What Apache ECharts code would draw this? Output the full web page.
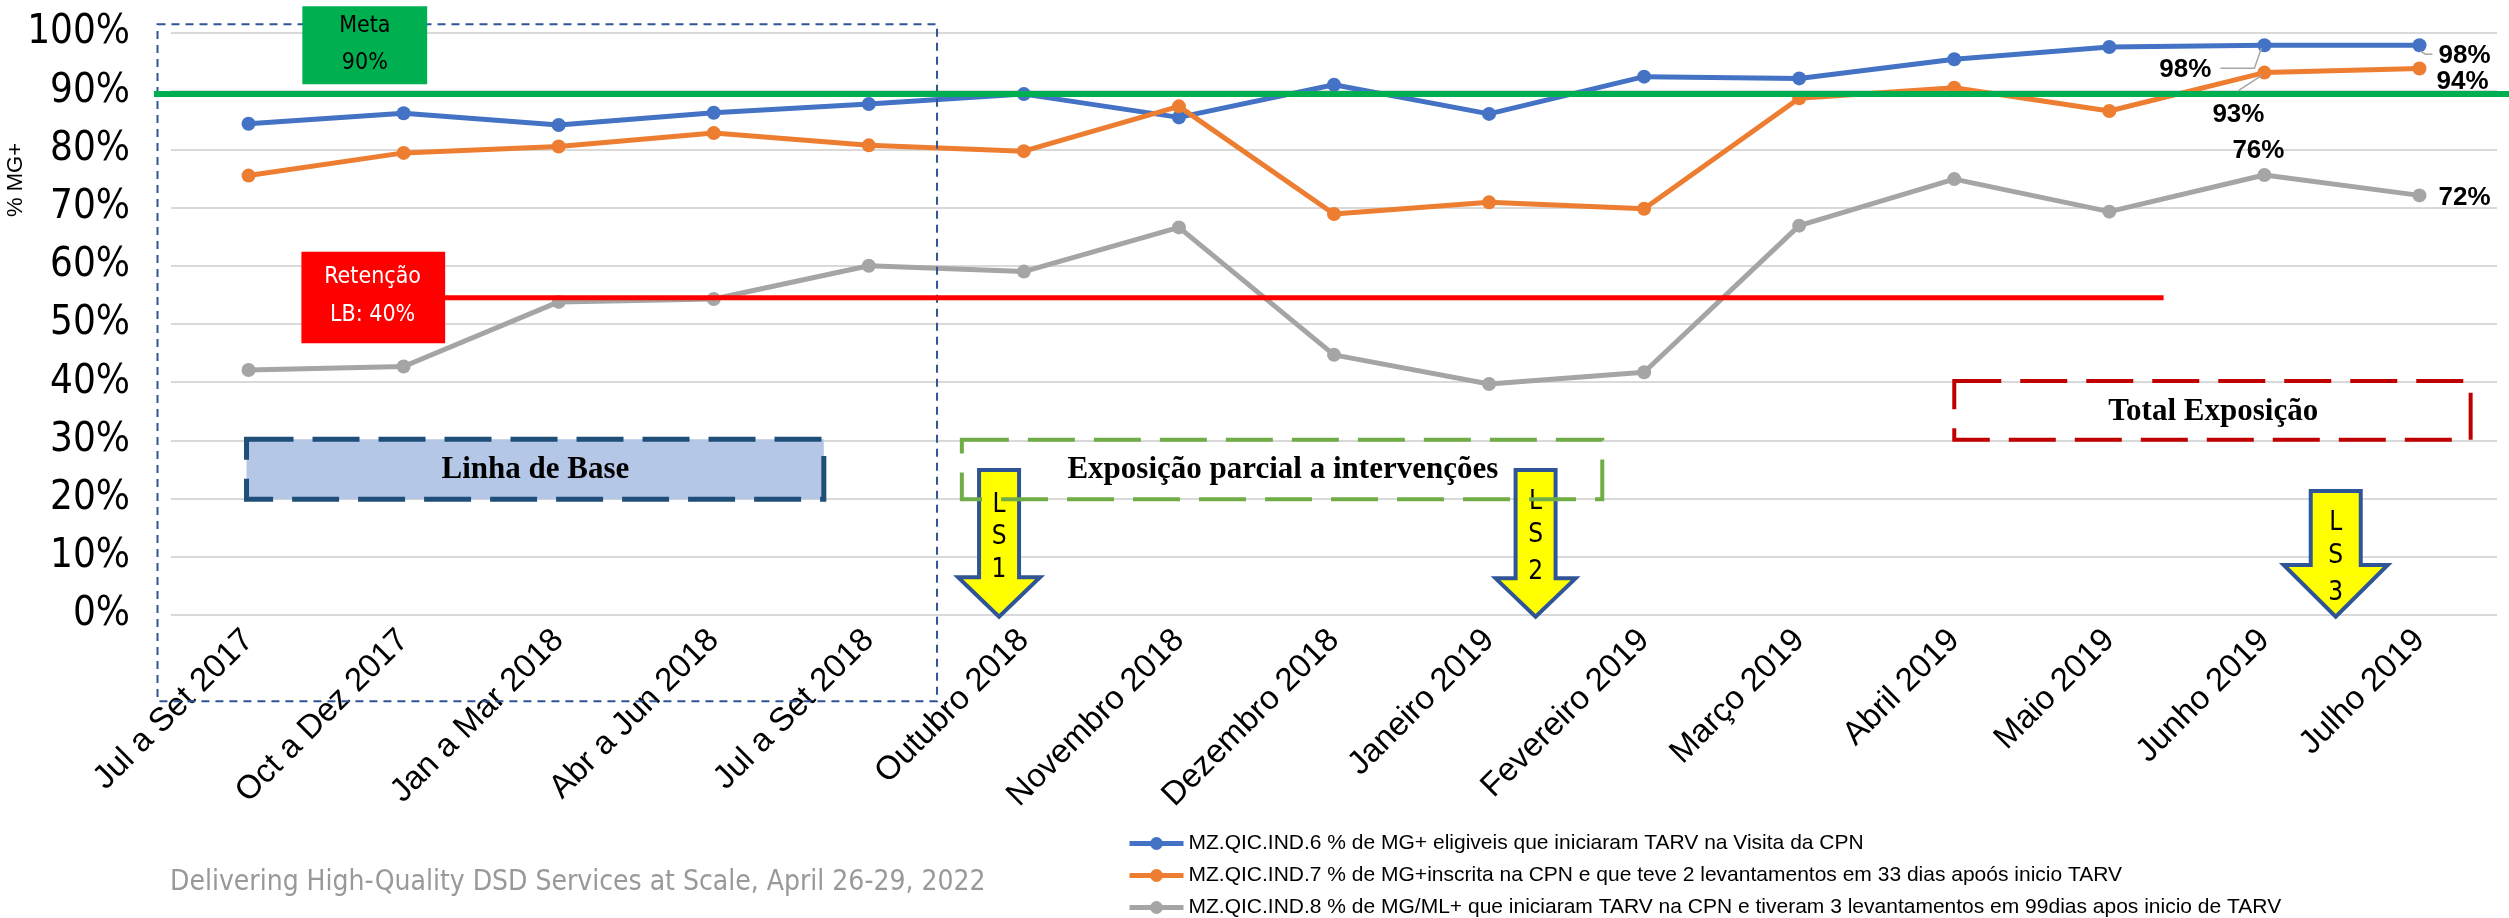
<!DOCTYPE html>
<html>
<head>
<meta charset="utf-8">
<script src="https://cdn.jsdelivr.net/npm/echarts@6/dist/echarts.min.js"></script>
<style>
html,body{margin:0;padding:0;background:#fff;}
#chart{width:2509px;height:918px;}
</style>
</head>
<body>
<div id="chart"></div>
<script>
// ---------- DATA ----------
const categories = ['Jul a Set 2017','Oct a Dez 2017','Jan a Mar 2018','Abr a Jun 2018','Jul a Set 2018','Outubro 2018','Novembro 2018','Dezembro 2018','Janeiro 2019','Fevereiro 2019','Março 2019','Abril 2019','Maio 2019','Junho 2019','Julho 2019'];
const ind6 = [84.4,86.2,84.2,86.3,87.8,89.5,85.5,91.1,86.1,92.5,92.2,95.5,97.6,97.9,97.9];
const ind7 = [75.5,79.4,80.5,82.8,80.7,79.7,87.4,68.9,70.9,69.8,88.8,90.6,86.6,93.2,93.9];
const ind8 = [42.1,42.7,53.8,54.3,60.0,59.0,66.6,44.7,39.7,41.7,66.9,74.9,69.3,75.6,72.1];
const seriesNames = [
  'MZ.QIC.IND.6 % de MG+ eligiveis que iniciaram TARV na Visita da CPN',
  'MZ.QIC.IND.7 % de MG+inscrita na CPN e que teve 2 levantamentos em 33 dias apoós inicio TARV',
  'MZ.QIC.IND.8 % de MG/ML+ que iniciaram TARV na CPN e tiveram 3 levantamentos em 99dias apos inicio de TARV'
];
const metaValue = 89.5;
const retencaoValue = 54.5;

// ---------- STYLE / LAYOUT ----------
const NARROW = "'Liberation Sans Narrow','Arial Narrow','DejaVu Sans Condensed',sans-serif";
const SANS = "'Liberation Sans',Arial,sans-serif";
const SERIF = "'Liberation Serif','Times New Roman',serif";
const colors = ['#4472C4','#ED7D31','#A5A5A5'];

// label placement per series, keyed by data index
const labelCfg = [
  {13:{position:'left',distance:46,offset:[0,25]}, 14:{position:'right',distance:12,offset:[0,11]}},
  {13:{position:'bottom',distance:22,offset:[-26,0]}, 14:{position:'right',distance:10,offset:[0,13]}},
  {13:{position:'top',distance:4,offset:[-6,0]}, 14:{position:'right',distance:12,offset:[0,2]}}
];

function buildData(vals, cfg){
  return vals.map((v,i)=>{
    if(cfg[i]){
      return {value:v, label:Object.assign({show:true,formatter:p=>Math.round(p.value)+'%',
        fontSize:26,fontWeight:'bold',fontFamily:SANS,color:'#000'},cfg[i])};
    }
    return v;
  });
}

// annotations in axis units (x: category index, y: percent)
const annotations = [
  {t:'rect', x0:-0.587, x1:4.44, y0:101.5, y1:-14.8, fill:null, stroke:'#2F5597', lw:2, dash:[8,6]},
  {t:'hline', x0:-0.61, x1:14.6, y:metaValue, stroke:'#00B050', lw:6},
  {t:'hline', x0:0.9, x1:12.35, y:retencaoValue, stroke:'#FF0000', lw:5},
  {t:'rect', x0:0.347, x1:1.152, y0:104.6, y1:91.2, fill:'#00B050', stroke:null},
  {t:'text', x:0.75, y:101.2, text:'Meta', size:23, family:NARROW, color:'#000'},
  {t:'text', x:0.75, y:94.8, text:'90%', size:23, family:NARROW, color:'#000'},
  {t:'rect', x0:0.341, x1:1.268, y0:62.4, y1:46.7, fill:'#FF0000', stroke:null},
  {t:'text', x:0.80, y:58.0, text:'Retenção', size:23, family:NARROW, color:'#fff'},
  {t:'text', x:0.80, y:51.5, text:'LB: 40%', size:23, family:NARROW, color:'#fff'},
  {t:'rect', x0:-0.013, x1:3.71, y0:30.2, y1:19.9, fill:'#B4C7E7', stroke:'#1F4E79', lw:5, dash:[47,19]},
  {t:'text', x:1.85, y:24.9, text:'Linha de Base', size:31, family:SERIF, weight:'bold', color:'#000'},
  {t:'rect', x0:11.0, x1:14.33, y0:40.2, y1:30.1, fill:null, stroke:'#C00000', lw:4, dash:[47,19]},
  {t:'text', x:12.67, y:34.9, text:'Total Exposição', size:31, family:SERIF, weight:'bold', color:'#000'},
  {t:'arrow', x:4.84, top:24.9, head:6.5, tip:-0.3, sw:20, hw:41, letters:['L','S','1'], offs:[35,67,100]},
  {t:'arrow', x:8.30, top:24.9, head:6.3, tip:-0.3, sw:20, hw:40, letters:['L','S','2'], offs:[32,65,102]},
  {t:'arrow', x:13.46, top:21.3, head:8.6, tip:-0.3, sw:25, hw:52, letters:['L','S','3'], offs:[32,65,102]},
  {t:'rect', x0:4.6, x1:8.73, y0:30.1, y1:19.9, fill:null, stroke:'#70AD47', lw:4, dash:[47,19]},
  {t:'text', x:6.67, y:24.9, text:'Exposição parcial a intervenções', size:31, family:SERIF, weight:'bold', color:'#000'},
  {t:'leader', s:0, i:13, pts:[[-44,23],[-10,23],[-3,3]]},
  {t:'leader', s:1, i:13, pts:[[-26,18],[-3,3]]},
  {t:'leader', s:0, i:14, pts:[[1,6],[6,9],[13,9]]}
];
const allSeries = [ind6, ind7, ind8];

function renderAnno(params, api){
  const a = annotations[params.dataIndex];
  if(a.t==='rect'){
    const p0 = api.coord([a.x0,a.y0]), p1 = api.coord([a.x1,a.y1]);
    return {type:'rect', shape:{x:Math.min(p0[0],p1[0]), y:Math.min(p0[1],p1[1]), width:Math.abs(p1[0]-p0[0]), height:Math.abs(p1[1]-p0[1])},
      style:{fill:a.fill||'transparent', stroke:a.stroke||null, lineWidth:a.lw||0, lineDash:a.dash||null}};
  }
  if(a.t==='hline'){
    const p0 = api.coord([a.x0,a.y]), p1 = api.coord([a.x1,a.y]);
    return {type:'line', shape:{x1:p0[0],y1:p0[1],x2:p1[0],y2:p1[1]}, style:{stroke:a.stroke, lineWidth:a.lw}};
  }
  if(a.t==='text'){
    const p = api.coord([a.x,a.y]);
    return {type:'text', x:p[0], y:p[1], style:{text:a.text, fill:a.color, fontSize:a.size, fontFamily:a.family, fontWeight:a.weight||'normal', align:'center', verticalAlign:'middle'}};
  }
  if(a.t==='arrow'){
    const pt = api.coord([a.x,a.top]), ph = api.coord([a.x,a.head]), pp = api.coord([a.x,a.tip]);
    const cx = pt[0];
    const pts = [[cx-a.sw,pt[1]],[cx+a.sw,pt[1]],[cx+a.sw,ph[1]],[cx+a.hw,ph[1]],[cx,pp[1]],[cx-a.hw,ph[1]],[cx-a.sw,ph[1]]];
    const children = [{type:'polygon', shape:{points:pts}, style:{fill:'#FFFF00', stroke:'#2F5597', lineWidth:4, lineJoin:'miter'}}];
    a.letters.forEach((L,k)=>{
      children.push({type:'text', x:cx, y:pt[1]+a.offs[k], style:{text:L, fill:'#000', fontSize:26, fontFamily:NARROW, align:'center', verticalAlign:'middle'}});
    });
    return {type:'group', children};
  }
  if(a.t==='leader'){
    const p = api.coord([a.i, allSeries[a.s][a.i]]);
    return {type:'polyline', shape:{points:a.pts.map(q=>[p[0]+q[0],p[1]+q[1]])}, style:{stroke:'#A6A6A6', lineWidth:1.5, fill:null}};
  }
  return null;
}

const chart = echarts.init(document.getElementById('chart'), null, {renderer:'canvas'});
const lineSeries = allSeries.map((vals,k)=>({
  name: seriesNames[k], type:'line', data: buildData(vals, labelCfg[k]),
  xAxisIndex:0, yAxisIndex:0,
  symbol:'circle', symbolSize:14, z:2,
  itemStyle:{color:colors[k]}, lineStyle:{color:colors[k], width:5},
  label:{show:false}, animation:false
}));

const legendTops = [828, 860, 892];
chart.setOption({
  animation:false,
  backgroundColor:'#ffffff',
  grid:{left:171, right:12, top:33, bottom:303, containLabel:false},
  legend: seriesNames.map((n,k)=>({
    data:[n], orient:'horizontal', left:1122, top:legendTops[k],
    itemWidth:54, itemHeight:16, lineStyle:{width:5},
    textStyle:{fontSize:21, fontFamily:SANS, color:'#000'}
  })),
  xAxis:[
    {type:'category', data:categories, boundaryGap:true,
      axisLine:{show:false}, axisTick:{show:false}, splitLine:{show:false},
      axisLabel:{rotate:45, margin:20, fontSize:33, fontFamily:SANS, color:'#000', interval:0}},
    {type:'value', min:-0.5, max:14.5, show:false}
  ],
  yAxis:[{type:'value', min:0, max:100, interval:10,
    axisLine:{show:false}, axisTick:{show:false},
    splitLine:{lineStyle:{color:'#D9D9D9', width:2}},
    axisLabel:{formatter:v=>v+'%', fontSize:40, fontFamily:NARROW, color:'#000', margin:41}
  }],
  graphic:[
    {type:'text', x:16, y:180, rotation:Math.PI/2, style:{text:'% MG+', fontSize:22, fontFamily:SANS, fill:'#000', align:'center', verticalAlign:'middle'}},
    {type:'text', left:170, top:869, style:{text:'Delivering High-Quality DSD Services at Scale, April 26-29, 2022', fontSize:28, fontFamily:NARROW, fill:'#999999'}}
  ],
  series: lineSeries.concat([{
    type:'custom', xAxisIndex:1, yAxisIndex:0, clip:false, z:5, silent:true,
    renderItem: renderAnno,
    data: annotations.map((a,i)=>[i,0])
  }])
});
</script>
</body>
</html>
